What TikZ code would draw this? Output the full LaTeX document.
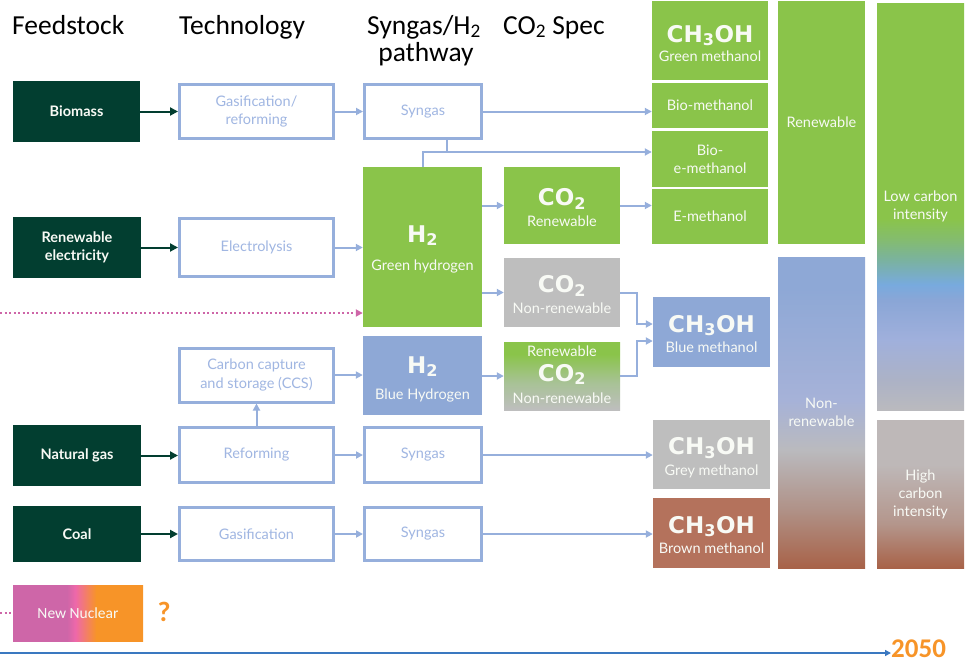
\documentclass[tikz,border=0pt]{standalone}
\usepackage{fontspec}
\setmainfont{Lato}
\newfontfamily\hdrfont{Carlito}
\newfontfamily\chemfont{DejaVu Sans}
\usetikzlibrary{arrows.meta,calc}

\definecolor{dkgreen}{RGB}{2,62,48}
\definecolor{lgreen}{RGB}{138,196,74}
\definecolor{lblue}{RGB}{142,168,214}
\definecolor{oblue}{RGB}{150,175,220}
\definecolor{tblue}{RGB}{160,182,226}
\definecolor{lgrey}{RGB}{190,190,190}
\definecolor{mbrown}{RGB}{180,114,92}
\definecolor{dbrown}{RGB}{168,98,72}
\definecolor{pinkd}{RGB}{206,102,168}
\definecolor{pinkb}{RGB}{238,104,170}
\definecolor{orng}{RGB}{247,148,40}
\definecolor{tlblue}{RGB}{58,120,192}
\definecolor{lcA}{RGB}{172,178,198}
\definecolor{lcB}{RGB}{160,176,220}
\definecolor{lcC}{RGB}{138,166,214}
\definecolor{lcD}{RGB}{120,170,222}
\definecolor{lcE}{RGB}{122,178,160}
\definecolor{lcF}{RGB}{132,188,110}
\definecolor{lcG}{RGB}{186,186,190}
\definecolor{nrA}{RGB}{176,146,136}
\definecolor{nrB}{RGB}{186,186,190}
\definecolor{nrC}{RGB}{166,178,216}
\definecolor{hiA}{RGB}{180,150,140}
\definecolor{hiB}{RGB}{190,184,184}
\definecolor{cmA}{RGB}{168,194,150}
\definecolor{offwhite}{RGB}{248,250,245}

\pgfdeclareverticalshading{lowcarb}{100bp}{color(0bp)=(lcG); color(25bp)=(lcG); color(28.7bp)=(lcA); color(33.6bp)=(lcB); color(38.5bp)=(lcC); color(40.4bp)=(lcD); color(43.4bp)=(lcE); color(46bp)=(lcF); color(48.5bp)=(lgreen); color(100bp)=(lgreen)}
\pgfdeclareverticalshading{nonren}{100bp}{color(0bp)=(dbrown); color(25bp)=(dbrown); color(34.5bp)=(nrA); color(44bp)=(nrB); color(52bp)=(nrC); color(70bp)=(lblue); color(100bp)=(lblue)}
\pgfdeclareverticalshading{highcarb}{100bp}{color(0bp)=(dbrown); color(25bp)=(dbrown); color(40bp)=(hiA); color(60bp)=(hiB); color(100bp)=(hiB)}
\pgfdeclareverticalshading{comix}{100bp}{color(0bp)=(lgrey); color(25bp)=(lgrey); color(45bp)=(cmA); color(66bp)=(lgreen); color(100bp)=(lgreen)}
\pgfdeclarehorizontalshading{nuc}{100bp}{color(0bp)=(pinkd); color(25bp)=(pinkd); color(45.8bp)=(pinkd); color(49bp)=(pinkb); color(57bp)=(orng); color(100bp)=(orng)}

\tikzset{
  fstock/.style={fill=dkgreen, text=offwhite, font=\bfseries\fontsize{14.5}{18}\selectfont, align=center, inner sep=0pt},
  techbox/.style={draw=oblue, line width=3pt, fill=white, text=tblue, font=\fontsize{14.5}{18.5}\selectfont, align=center, inner sep=0pt},
  colbox/.style={text=offwhite, align=center, inner sep=0pt, font=\fontsize{14.5}{18}\selectfont},
  chemtxt/.style={text=offwhite, inner sep=0pt, font=\chemfont\bfseries\fontsize{23}{24}\selectfont},
  labtxt/.style={text=offwhite, inner sep=0pt, font=\fontsize{14.5}{18}\selectfont},
  hdr/.style={font=\hdrfont\fontsize{27.5}{30}\selectfont, inner sep=0pt},
  barrow/.style={draw=oblue, line width=2pt, -{Triangle[length=7pt,width=7pt]}},
  bline/.style={draw=oblue, line width=2pt},
  garrow/.style={draw=dkgreen, line width=2pt, -{Triangle[length=8pt,width=8pt]}},
  pinkdot/.style={draw=pinkd, line width=2pt, dash pattern=on 2pt off 2.5pt},
}

% #1 box name, #2 chem text, #3 label, #4 chem baseline offset, #5 label baseline offset
\newcommand\chemlab[5]{%
  \node[chemtxt, anchor=base] (#1c) at ($(#1.center)+(0,#4)$) {#2};
  \node[labtxt, anchor=base] (#1l) at ($(#1.center)+(0,#5)$) {#3};}

\begin{document}
\begin{tikzpicture}[x=1pt,y=-1pt]
\useasboundingbox (0,0) rectangle (973,664);

% headers
\node[hdr, anchor=base west] (hfeed) at (12,34) {Feedstock};
\node[hdr, anchor=base west] (htech) at (179,34) {Technology};
\node[hdr, anchor=base] (hsyn) at (424,34) {Syngas/H\textsubscript{2}};
\node[hdr, anchor=base] (hpath) at (426,61) {pathway};
\node[hdr, anchor=base west] (hco2) at (503,34) {CO\textsubscript{2} Spec};

% feedstock
\node[fstock, minimum width=127pt, minimum height=61pt] (bio) at (76.5,111.5) {Biomass};
\node[fstock, minimum width=128pt, minimum height=61pt] (rel) at (77,247.5) {Renewable\\electricity};
\node[fstock, minimum width=128pt, minimum height=61pt] (ng) at (77,455.5) {Natural gas};
\node[fstock, minimum width=128pt, minimum height=56pt] (coal) at (77,534) {Coal};

% technology
\node[techbox, minimum width=154pt, minimum height=54pt] (gr) at (256.5,111.5) {Gasification/\\reforming};
\node[techbox, minimum width=154pt, minimum height=58pt] (elec) at (256.5,247.5) {Electrolysis};
\node[techbox, minimum width=154pt, minimum height=54pt] (ccs) at (256.5,375) {Carbon capture\\and storage (CCS)};
\node[techbox, minimum width=154pt, minimum height=55pt] (ref) at (256.5,455) {Reforming};
\node[techbox, minimum width=154pt, minimum height=53pt] (gas) at (256.5,534) {Gasification};

% syngas / H2
\node[techbox, minimum width=117pt, minimum height=54pt] (syn1) at (423,111.5) {Syngas};
\node[techbox, minimum width=117pt, minimum height=55pt] (syn2) at (423,455) {Syngas};
\node[techbox, minimum width=117pt, minimum height=53pt] (syn3) at (423,534) {Syngas};
\node[colbox, fill=lgreen, minimum width=119pt, minimum height=160pt] (gh2) at (422.5,247) {};
\chemlab{gh2}{H\textsubscript{2}}{Green hydrogen}{-5}{23.5}
\node[colbox, fill=lblue, minimum width=119pt, minimum height=79pt] (bh2) at (422.5,375.5) {};
\chemlab{bh2}{H\textsubscript{2}}{Blue Hydrogen}{-2.5}{23.5}

% CO2
\node[colbox, fill=lgreen, minimum width=116pt, minimum height=77pt] (co2r) at (562,205.5) {};
\chemlab{co2r}{CO\textsubscript{2}}{Renewable}{0}{20.5}
\node[colbox, fill=lgrey, minimum width=116pt, minimum height=69pt] (co2n) at (562,292.5) {};
\chemlab{co2n}{CO\textsubscript{2}}{Non-renewable}{0}{20.5}
\node[colbox, shading=comix, minimum width=116pt, minimum height=68pt] (co2m) at (562,376) {};
\chemlab{co2m}{CO\textsubscript{2}}{Non-renewable}{5}{27}
\node[labtxt, anchor=base] (co2mt) at ($(co2m.center)+(0,-20)$) {Renewable};

% methanol
\node[colbox, fill=lgreen, minimum width=116pt, minimum height=79pt] (gm) at (710,40.5) {};
\chemlab{gm}{CH\textsubscript{3}OH}{Green methanol}{1.5}{20.5}
\node[colbox, fill=lgreen, minimum width=116pt, minimum height=45pt] (biom) at (710,105.5) {Bio-methanol};
\node[colbox, fill=lgreen, minimum width=116pt, minimum height=56pt] (bioe) at (710,159) {Bio-\\e-methanol};
\node[colbox, fill=lgreen, minimum width=116pt, minimum height=55pt] (em) at (710,216.5) {E-methanol};
\node[colbox, fill=lblue, minimum width=117pt, minimum height=70pt] (blm) at (711.5,332) {};
\chemlab{blm}{CH\textsubscript{3}OH}{Blue methanol}{0}{20}
\node[colbox, fill=lgrey, minimum width=117pt, minimum height=69pt] (grm) at (711.5,454.5) {};
\chemlab{grm}{CH\textsubscript{3}OH}{Grey methanol}{0}{20.5}
\node[colbox, fill=mbrown, minimum width=117pt, minimum height=70pt] (brm) at (711.5,533) {};
\chemlab{brm}{CH\textsubscript{3}OH}{Brown methanol}{0}{20.5}

% columns
\node[colbox, fill=lgreen, minimum width=87pt, minimum height=243pt] (ren) at (821.5,122.5) {Renewable};
\node[colbox, shading=nonren, minimum width=87pt, minimum height=311pt] (nonr) at (821.5,412.5) {Non-\\renewable};
\node[colbox, shading=lowcarb, minimum width=87pt, minimum height=407pt] (low) at (920.5,206.5) {Low carbon\\intensity};
\node[colbox, shading=highcarb, minimum width=87pt, minimum height=148pt] (high) at (920.5,494) {High\\carbon\\intensity};

% new nuclear
\node[colbox, shading=nuc, minimum width=130pt, minimum height=56pt, font=\hdrfont\fontsize{15.5}{18}\selectfont] (nn) at (78,613) {New Nuclear};
\node[text=orng, font=\hdrfont\bfseries\fontsize{28}{30}\selectfont, inner sep=0pt, anchor=base] (qm) at (164,621) {?};

% timeline
\node[text=orng, font=\hdrfont\bfseries\fontsize{27}{29}\selectfont, inner sep=0pt, anchor=base west] (y2050) at (891,657.5) {2050};
\coordinate (t0) at (0,653);
\draw[draw=tlblue, line width=1.5pt, -{Triangle[length=6pt,width=6pt]}] (t0) -- (t0 -| y2050.west);

% pink dotted
\coordinate (pk) at (0,313);
\draw[pinkdot, -{Triangle[length=7pt,width=7pt]}] (pk) -- (pk -| gh2.west);
\coordinate (pk2) at (0,613);
\draw[pinkdot] (pk2) -- (nn.west);

% feedstock arrows
\draw[garrow] (bio.east) -- (bio.east -| gr.west);
\draw[garrow] (rel.east) -- (rel.east -| elec.west);
\draw[garrow] (ng.east) -- (ng.east -| ref.west);
\draw[garrow] (coal.east) -- (coal.east -| gas.west);

% technology arrows
\draw[barrow] (gr.east) -- (gr.east -| syn1.west);
\draw[barrow] (elec.east) -- (elec.east -| gh2.west);
\draw[barrow] (ccs.east) -- (ccs.east -| bh2.west);
\draw[barrow] (ref.north) -- (ccs.south);
\draw[barrow] (ref.east) -- (ref.east -| syn2.west);
\draw[barrow] (gas.east) -- (gas.east -| syn3.west);

% syngas to methanol
\draw[barrow] (syn1.east) -- (syn1.east -| biom.west);
\coordinate (jn) at (447,152);
\draw[bline] (syn1.south -| jn) -- (jn);
\draw[barrow] (gh2.north) |- (jn -| bioe.west);
\draw[barrow] (syn2.east) -- (syn2.east -| grm.west);
\draw[barrow] (syn3.east) -- (syn3.east -| brm.west);

% H2 to CO2
\draw[barrow] (gh2.east |- co2r.west) -- (co2r.west);
\draw[barrow] (gh2.east |- co2n.west) -- (co2n.west);
\draw[barrow] (bh2.east |- co2m.west) -- (co2m.west);

% CO2 to methanol
\draw[barrow] (co2r.east) -- (co2r.east -| em.west);
\coordinate (bmA) at ($(blm.west)+(0,-8)$);
\coordinate (bmB) at ($(blm.west)+(0,9)$);
\draw[barrow] (co2n.east) -- ++(17,0) |- (bmA);
\draw[barrow] (co2m.east) -- ++(17,0) |- (bmB);
\end{tikzpicture}
\end{document}
